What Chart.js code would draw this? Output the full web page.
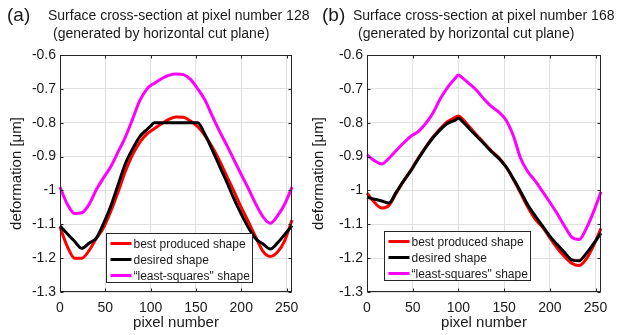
<!DOCTYPE html>
<html>
<head>
<meta charset="utf-8">
<script src="https://cdn.jsdelivr.net/npm/chart.js@4.4.1/dist/chart.umd.min.js"></script>
<style>
  body { margin: 0; width: 621px; height: 335px; position: relative; background: #fff; overflow: hidden; font-family: "Liberation Sans", Arial, sans-serif; color: #1a1a1a; }
  .panel { position: absolute; top: 0; height: 335px; }
  .txt { position: absolute; white-space: nowrap; font-size: 14px; line-height: 16px; }
  .tag { position: absolute; white-space: nowrap; font-size: 19px; line-height: 22px; }
</style>
</head>
<body>
<div class="panel" style="left:0;width:310px"><canvas id="chartA" width="310" height="335"></canvas></div>
<div class="panel" style="left:310px;width:311px"><canvas id="chartB" width="311" height="335"></canvas></div>
<div class="tag" style="left:7px;top:4px">(a)</div>
<div class="txt" style="left:48px;top:7px">Surface cross-section at pixel number 128</div>
<div class="txt" style="left:53px;top:25px">(generated by horizontal cut plane)</div>
<div class="tag" style="left:322px;top:4px">(b)</div>
<div class="txt" style="left:353px;top:7px">Surface cross-section at pixel number 168</div>
<div class="txt" style="left:358px;top:25px">(generated by horizontal cut plane)</div>
<script>
const pixels = [0, 8, 16, 24, 32, 40, 48, 56, 64, 72, 80, 88, 96, 100, 104, 112, 120, 128,
  136, 144, 152, 160, 168, 176, 184, 192, 200, 208, 216, 224, 232, 240, 248, 256];

// (a) pixel 128
const bestA = [-1.108, -1.165, -1.200, -1.200, -1.178, -1.142, -1.110, -1.062, -1.005, -0.945, -0.895, -0.858, -0.833, -0.825, -0.818, -0.803, -0.790, -0.783,
  -0.784, -0.795, -0.812, -0.838, -0.872, -0.912, -0.958, -1.003, -1.050, -1.093, -1.138, -1.180, -1.195, -1.182, -1.148, -1.087];
const desiredA = [-1.105, -1.128, -1.150, -1.171, -1.156, -1.141, -1.098, -1.047, -0.984, -0.922, -0.878, -0.841, -0.820, -0.810, -0.800, -0.800, -0.800, -0.800,
  -0.800, -0.800, -0.800, -0.835, -0.880, -0.928, -0.975, -1.025, -1.070, -1.110, -1.143, -1.158, -1.173, -1.155, -1.130, -1.104];
const lsqA = [-0.990, -1.040, -1.068, -1.066, -1.042, -0.998, -0.963, -0.930, -0.887, -0.843, -0.790, -0.735, -0.700, -0.690, -0.684, -0.670, -0.660, -0.656,
  -0.658, -0.672, -0.700, -0.733, -0.780, -0.825, -0.866, -0.910, -0.953, -0.995, -1.040, -1.078, -1.097, -1.075, -1.040, -0.990];

// (b) pixel 168
const bestB = [-1.008, -1.035, -1.052, -1.044, -1.008, -0.973, -0.940, -0.905, -0.873, -0.843, -0.818, -0.797, -0.785, -0.780, -0.788, -0.812, -0.836, -0.860,
  -0.883, -0.903, -0.930, -0.967, -1.008, -1.050, -1.085, -1.108, -1.140, -1.170, -1.195, -1.215, -1.222, -1.202, -1.162, -1.112];
const desiredB = [-1.020, -1.026, -1.031, -1.037, -1.005, -0.972, -0.942, -0.907, -0.874, -0.845, -0.821, -0.802, -0.793, -0.787, -0.795, -0.818, -0.840, -0.862,
  -0.885, -0.905, -0.930, -0.965, -1.003, -1.043, -1.075, -1.105, -1.135, -1.160, -1.183, -1.205, -1.208, -1.186, -1.157, -1.126];
const lsqB = [-0.895, -0.912, -0.922, -0.905, -0.882, -0.860, -0.840, -0.826, -0.803, -0.772, -0.730, -0.696, -0.670, -0.659, -0.667, -0.685, -0.705, -0.730,
  -0.752, -0.768, -0.792, -0.838, -0.905, -0.945, -0.972, -1.003, -1.035, -1.068, -1.105, -1.138, -1.145, -1.112, -1.062, -1.004];

const xTicks = [0, 50, 100, 150, 200, 250];
const yTicks = [-1.3, -1.2, -1.1, -1, -0.9, -0.8, -0.7, -0.6];
const seriesNames = ['best produced shape', 'desired shape', '\u201cleast-squares" shape'];

const FONT = '"Liberation Sans", Arial, sans-serif';
const AXIS = '#262626';

// box around the axes with inward ticks on all four sides (matlab style)
const framePlugin = {
  id: 'frame',
  afterDatasetsDraw(chart) {
    const { ctx, chartArea: a, scales: { x, y } } = chart;
    const L = Math.round(a.left) + 0.5, R = Math.round(a.right) - 0.5;
    const T = Math.round(a.top) + 0.5, B = Math.round(a.bottom) - 0.5;
    ctx.save();
    ctx.strokeStyle = AXIS;
    ctx.lineWidth = 1;
    ctx.strokeRect(L, T, R - L, B - T);
    ctx.beginPath();
    xTicks.forEach(v => {
      const px = Math.round(x.getPixelForValue(v)) + 0.5;
      ctx.moveTo(px, B); ctx.lineTo(px, B - 3);
      ctx.moveTo(px, T); ctx.lineTo(px, T + 3);
    });
    yTicks.forEach(v => {
      const py = Math.round(y.getPixelForValue(v)) + 0.5;
      ctx.moveTo(L, py); ctx.lineTo(L + 3, py);
      ctx.moveTo(R, py); ctx.lineTo(R - 3, py);
    });
    ctx.stroke();
    ctx.restore();
  }
};

// legend box drawn inside the plot area
const boxLegend = {
  id: 'boxLegend',
  afterDraw(chart, args, opts) {
    const { ctx, chartArea: a } = chart;
    ctx.save();
    ctx.font = '12px ' + FONT;
    const items = chart.data.datasets.map(d => ({ label: d.label, color: d.borderColor }));
    items.sort((p, q) => seriesNames.indexOf(p.label) - seriesNames.indexOf(q.label));
    const textW = Math.max(...items.map(i => ctx.measureText(i.label).width));
    const left = Math.round(a.left + opts.offset) + 0.5;
    const w = Math.round(textW + 30);
    const h = 49;
    const top = Math.round(a.bottom - opts.bottom - h) + 0.5;
    ctx.fillStyle = '#fff';
    ctx.fillRect(left, top, w, h);
    ctx.strokeStyle = AXIS;
    ctx.lineWidth = 1;
    ctx.strokeRect(left, top, w, h);
    ctx.textBaseline = 'middle';
    items.forEach((it, i) => {
      const cy = top + 10 + i * 16;
      ctx.strokeStyle = it.color;
      ctx.lineWidth = 3;
      ctx.beginPath();
      ctx.moveTo(left + 4, cy);
      ctx.lineTo(left + 25, cy);
      ctx.stroke();
      ctx.fillStyle = '#1a1a1a';
      ctx.fillText(it.label, left + 27, cy + 1);
    });
    ctx.restore();
  }
};

function makeChart(id, best, desired, lsq, cfg) {
  const pts = arr => arr.map((v, i) => ({ x: pixels[i], y: v }));
  const line = (label, data, color, order) => ({
    label, data: pts(data), borderColor: color, backgroundColor: color,
    borderWidth: 3, pointRadius: 0, cubicInterpolationMode: 'monotone', order, clip: false
  });
  return new Chart(document.getElementById(id), {
    type: 'line',
    data: {
      datasets: [
        line(seriesNames[0], best, '#ff0000', 1),
        line(seriesNames[1], desired, '#000000', 0),
        line(seriesNames[2], lsq, '#ff00ff', 2)
      ]
    },
    options: {
      responsive: false,
      animation: false,
      layout: { padding: { top: 55, right: cfg.right, left: 0, bottom: 0 } },
      plugins: {
        legend: { display: false },
        tooltip: { enabled: false },
        boxLegend: { offset: cfg.legendOffset, bottom: cfg.legendBottom }
      },
      scales: {
        x: {
          type: 'linear', min: 0, max: 256,
          afterBuildTicks: s => { s.ticks = xTicks.map(v => ({ value: v })); },
          afterFit: s => { s.height = 43; },
          grid: { color: '#e0e0e0', drawTicks: false },
          border: { display: false },
          ticks: { color: '#1a1a1a', padding: 8, maxRotation: 0, font: { family: FONT, size: 14 } },
          title: { display: true, text: 'pixel number', color: '#1a1a1a', padding: { top: 0, bottom: 3 }, font: { family: FONT, size: 15 } }
        },
        y: {
          type: 'linear', min: -1.3, max: -0.6,
          afterBuildTicks: s => { s.ticks = yTicks.map(v => ({ value: v })); },
          afterFit: s => { s.width = cfg.yWidth; },
          grid: { color: '#e0e0e0', drawTicks: false },
          border: { display: false },
          ticks: {
            color: '#1a1a1a', padding: 4, font: { family: FONT, size: 14 },
            callback: v => String(Math.round(v * 10) / 10)
          },
          title: { display: true, text: 'deformation [\u03bcm]', color: '#1a1a1a', padding: { top: cfg.yTitlePad, bottom: 0 }, font: { family: FONT, size: 15 } }
        }
      }
    },
    plugins: [framePlugin, boxLegend]
  });
}

makeChart('chartA', bestA, desiredA, lsqA, { right: 18, yWidth: 60, yTitlePad: 8, legendOffset: 46, legendBottom: 10 });
makeChart('chartB', bestB, desiredB, lsqB, { right: 20, yWidth: 57, yTitlePad: 0, legendOffset: 17, legendBottom: 12 });
</script>
</body>
</html>
